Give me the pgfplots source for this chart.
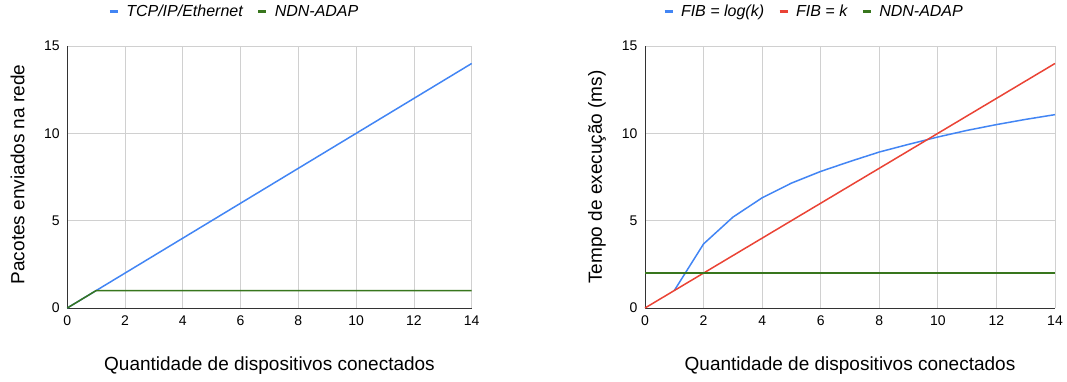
\documentclass[border=0pt]{standalone}
\usepackage{pgfplots}
\pgfplotsset{compat=1.18}
\usepackage{fontspec}
\setmainfont{Liberation Sans}
\definecolor{gblue}{HTML}{4285F4}
\definecolor{gred}{HTML}{EA4335}
\definecolor{ggreen}{HTML}{38761D}
\definecolor{gridc}{HTML}{D0D0D0}
\definecolor{axc}{HTML}{333333}
\pgfplotsset{myax/.style={
  scale only axis, height=262pt,
  xmin=0, xmax=14, ymin=0, ymax=15,
  xtick={0,2,...,14}, ytick={0,5,10,15},
  grid=major, grid style={color=gridc, line width=0.8pt},
  axis lines=left, axis line style={-, color=axc, line width=1pt},
  major tick length=0pt,
  /pgf/number format/assume math mode=true,
  tick label style={font=\fontsize{14}{16}\selectfont},
  xticklabel style={yshift=-4pt},
  yticklabel style={xshift=-4pt},
  label style={font=\fontsize{19}{22}\selectfont},
  xlabel style={at={(axis description cs:0.5,-0.24)}, anchor=base},
  legend style={draw=none, fill=none, font=\fontsize{16}{18}\selectfont\itshape, legend columns=-1,
    /tikz/every odd column/.append style={column sep=5pt},
    /tikz/every even column/.append style={column sep=12pt}},
  legend image code/.code={\draw[line width=3pt,#1] (0pt,0pt) -- (8pt,0pt);},
  every axis plot/.append style={line width=1.5pt, mark=none},
  clip=false,
}}
\begin{document}
\begin{tikzpicture}
\path[use as bounding box] (0pt,0pt) rectangle (1067pt,381pt);
\begin{axis}[myax, at={(67.3pt,73pt)}, anchor=south west, width=404.4pt,
  xlabel={Quantidade de dispositivos conectados},
  ylabel={Pacotes enviados na rede},
  ylabel style={at={(axis description cs:-0.123,0.51)}, anchor=center},
  legend style={at={(axis description cs:0.413,1.13)}, anchor=center}]
\addplot[gblue] coordinates {(0,0) (1,1) (2,2) (3,3) (4,4) (5,5) (6,6) (7,7) (8,8) (9,9) (10,10) (11,11) (12,12) (13,13) (14,14)};
\addlegendentry{TCP/IP/Ethernet}
\addplot[ggreen] coordinates {(0,0) (1,1) (2,1) (3,1) (4,1) (5,1) (6,1) (7,1) (8,1) (9,1) (10,1) (11,1) (12,1) (13,1) (14,1)};
\addlegendentry{NDN-ADAP}
\end{axis}
\begin{axis}[myax, at={(645pt,73pt)}, anchor=south west, width=410pt,
  xlabel={Quantidade de dispositivos conectados},
  ylabel={Tempo de execução (ms)},
  ylabel style={at={(axis description cs:-0.117,0.5)}, anchor=center},
  legend style={at={(axis description cs:0.412,1.13)}, anchor=center}]
\addplot[gblue] coordinates {(1,1) (2,3.67) (3,5.2) (4,6.31) (5,7.15) (6,7.82) (7,8.39) (8,8.93) (9,9.37) (10,9.79) (11,10.17) (12,10.5) (13,10.8) (14,11.07)};
\addlegendentry{FIB = log(k)}
\addplot[gred] coordinates {(0,0) (1,1) (2,2) (3,3) (4,4) (5,5) (6,6) (7,7) (8,8) (9,9) (10,10) (11,11) (12,12) (13,13) (14,14)};
\addlegendentry{FIB = k}
\addplot[ggreen] coordinates {(0,2) (1,2) (2,2) (3,2) (4,2) (5,2) (6,2) (7,2) (8,2) (9,2) (10,2) (11,2) (12,2) (13,2) (14,2)};
\addlegendentry{NDN-ADAP}
\end{axis}
\end{tikzpicture}
\end{document}
